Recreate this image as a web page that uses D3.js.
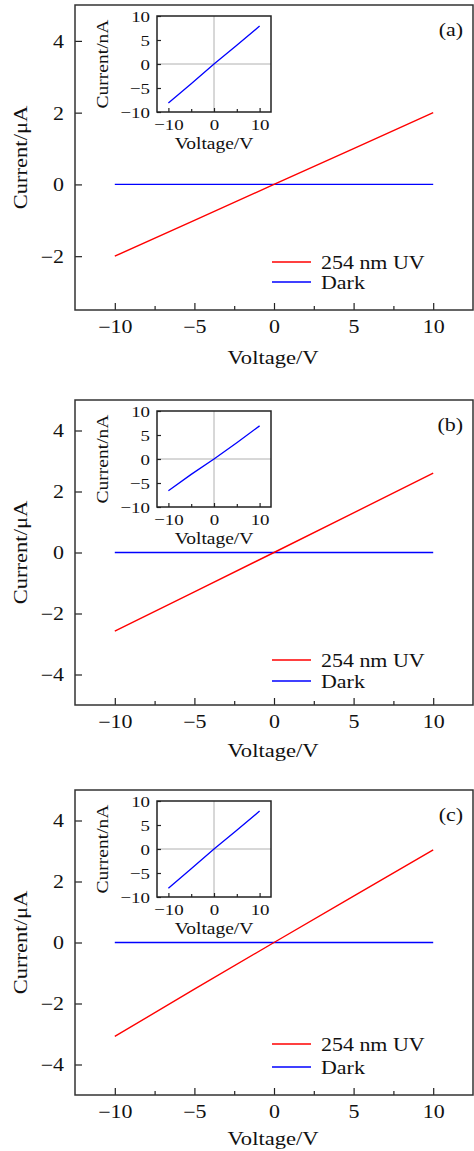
<!DOCTYPE html>
<html>
<head>
<meta charset="utf-8">
<script src="https://cdn.jsdelivr.net/npm/d3@7"></script>
<style>
body { margin: 0; background: #fff; }
svg text { font-family: "Liberation Serif", serif; fill: #111; }
</style>
</head>
<body>
<svg id="chart"></svg>
<script>
// values
const voltage = [-10, -5, 0, 5, 10]
const uvA = [-2.0, -1.0, 0.0, 1.0, 2.0]
const uvB = [-2.58, -1.29, 0.0, 1.3, 2.6]
const uvC = [-3.08, -1.53, 0.0, 1.52, 3.04]
const darkA = [0, 0, 0, 0, 0]
const darkB = [0, 0, 0, 0, 0]
const darkC = [0, 0, 0, 0, 0]
const insetA = [-8.1, -4.1, 0, 3.9, 7.9]
const insetB = [-6.6, -3.2, 0, 3.4, 6.9]
const insetC = [-8.2, -4.1, 0, 3.9, 7.9]
const panelNames = ['(a)', '(b)', '(c)']
const yTicksA = [-2, 0, 2, 4]
const yTicksBC = [-4, -2, 0, 2, 4]
const xTicks = [-10, -5, 0, 5, 10]
const xMinor = [-7.5, -2.5, 2.5, 7.5]
const insetXTicks = [-10, 0, 10]
const insetXMinor = [-5, 5]
const insetYTicks = [-10, -5, 0, 5, 10]
const legendNames = ['254 nm UV', 'Dark']

let width = 474
let height = 1151
let SX = 1.22   // the source text is drawn wide
let fmt = d => d < 0 ? '\u2212' + Math.abs(d) : String(d)

let svg = d3.select('#chart').attr('width', width).attr('height', height)

let panels = [
    {top: 5, yDom: [-3.5, 5], yTicks: yTicksA, uv: uvA, dark: darkA, inset: insetA, leg: [262, 282], lab: 54},
    {top: 400, yDom: [-5, 5], yTicks: yTicksBC, uv: uvB, dark: darkB, inset: insetB, leg: [660, 681], lab: 52},
    {top: 790, yDom: [-5, 5], yTicks: yTicksBC, uv: uvC, dark: darkC, inset: insetC, leg: [1044, 1067], lab: 50}
]

let stretch = (sel, x) => {
    sel.attr('x', x / SX).attr('transform', 'scale(' + SX + ',1)')
}

let drawPanel = (p, i) => {
    let g = svg.append('g')
    let left = 75, right = 473
    let top = p.top, bottom = p.top + 305

    let xScale = d3.scaleLinear().domain([-12.5, 12.5]).range([left, right])
    let yScale = d3.scaleLinear().domain(p.yDom).range([bottom, top])

    // axes, ticks pointing inwards
    let xAxis = d3.axisBottom(xScale).tickValues(xTicks).tickFormat(fmt)
        .tickSizeInner(-7).tickSizeOuter(0).tickPadding(10)
    let gx = g.append('g').attr('transform', 'translate(0,' + bottom + ')').call(xAxis)
    gx.selectAll('text').style('font-size', '18px').call(stretch, 0)

    g.append('g').attr('transform', 'translate(0,' + bottom + ')')
        .call(d3.axisBottom(xScale).tickValues(xMinor).tickFormat('').tickSizeInner(-4).tickSizeOuter(0))

    let yAxis = d3.axisLeft(yScale).tickValues(p.yTicks).tickFormat(fmt)
        .tickSizeInner(-7).tickSizeOuter(0).tickPadding(11)
    let gy = g.append('g').attr('transform', 'translate(' + left + ',0)').call(yAxis)
    gy.selectAll('text').style('font-size', '18px').attr('dy', '0.36em').call(stretch, -11)

    g.selectAll('.domain').remove()
    g.selectAll('.tick line').attr('stroke', '#222').attr('stroke-width', 1.2)

    g.append('rect')
        .attr('x', left).attr('y', top)
        .attr('width', right - left).attr('height', bottom - top)
        .attr('fill', 'none').attr('stroke', '#333').attr('stroke-width', 1.5)

    let line = d3.line().x((d, j) => xScale(voltage[j])).y(d => yScale(d))

    g.append('path').datum(p.dark).attr('d', line)
        .attr('fill', 'none').attr('stroke', 'blue').attr('stroke-width', 1.4)
    g.append('path').datum(p.uv).attr('d', line)
        .attr('fill', 'none').attr('stroke', 'red').attr('stroke-width', 1.4)

    // labels
    g.append('text')
        .attr('transform', 'translate(' + ((left + right) / 2 - 1) + ',' + (bottom + p.lab) + ') scale(' + SX + ',1)')
        .attr('text-anchor', 'middle').style('font-size', '18.5px')
        .text('Voltage/V')
    g.append('text')
        .attr('transform', 'translate(27,' + ((top + bottom) / 2) + ') rotate(-90) scale(' + SX + ',1)')
        .attr('text-anchor', 'middle').style('font-size', '18.5px')
        .text('Current/\u03bcA')
    g.append('text')
        .attr('transform', 'translate(463,' + (top + 31) + ') scale(' + SX + ',1)')
        .attr('text-anchor', 'end').style('font-size', '18px')
        .text(panelNames[i])

    // legend
    let colors = ['red', 'blue']
    legendNames.forEach((name, k) => {
        let ly = p.leg[k]
        g.append('line').attr('x1', 272).attr('x2', 311).attr('y1', ly).attr('y2', ly)
            .attr('stroke', colors[k]).attr('stroke-width', 1.4)
        g.append('text')
            .attr('transform', 'translate(321,' + (ly + 6.5) + ') scale(' + SX + ',1)')
            .style('font-size', '18px')
            .text(name)
    })

    drawInset(g, p, top + 11)
}

let drawInset = (g, p, itop) => {
    let ileft = 157, iright = 271
    let ibottom = itop + 96
    let xs = d3.scaleLinear().domain([-12.5, 12.5]).range([ileft, iright])
    let ys = d3.scaleLinear().domain([-10, 10]).range([ibottom, itop])

    g.append('rect').attr('x', ileft).attr('y', itop)
        .attr('width', iright - ileft).attr('height', ibottom - itop).attr('fill', '#fff')

    // grey zero lines
    g.append('line').attr('x1', xs(0)).attr('x2', xs(0)).attr('y1', itop).attr('y2', ibottom)
        .attr('stroke', '#b0b0b0').attr('stroke-width', 1)
    g.append('line').attr('x1', ileft).attr('x2', iright).attr('y1', ys(0)).attr('y2', ys(0))
        .attr('stroke', '#b0b0b0').attr('stroke-width', 1)

    let gx = g.append('g').attr('transform', 'translate(0,' + ibottom + ')')
        .call(d3.axisBottom(xs).tickValues(insetXTicks).tickFormat(fmt)
            .tickSizeInner(-4).tickSizeOuter(0).tickPadding(7))
    gx.selectAll('text').style('font-size', '15.5px').call(stretch, 0)
    g.append('g').attr('transform', 'translate(0,' + ibottom + ')')
        .call(d3.axisBottom(xs).tickValues(insetXMinor).tickFormat('').tickSizeInner(-3).tickSizeOuter(0))

    let gy = g.append('g').attr('transform', 'translate(' + ileft + ',0)')
        .call(d3.axisLeft(ys).tickValues(insetYTicks).tickFormat(fmt)
            .tickSizeInner(-4).tickSizeOuter(0).tickPadding(7))
    gy.selectAll('text').style('font-size', '15.5px').attr('dy', '0.36em').call(stretch, -7)

    g.selectAll('.domain').remove()
    g.selectAll('.tick line').attr('stroke', '#222').attr('stroke-width', 1.2)

    g.append('rect').attr('x', ileft).attr('y', itop)
        .attr('width', iright - ileft).attr('height', ibottom - itop)
        .attr('fill', 'none').attr('stroke', '#222').attr('stroke-width', 1.5)

    let line = d3.line().x((d, j) => xs(voltage[j])).y(d => ys(d))
    g.append('path').datum(p.inset).attr('d', line)
        .attr('fill', 'none').attr('stroke', 'blue').attr('stroke-width', 1.3)

    g.append('text')
        .attr('transform', 'translate(' + xs(0) + ',' + (ibottom + 37) + ') scale(' + SX + ',1)')
        .attr('text-anchor', 'middle').style('font-size', '16px')
        .text('Voltage/V')
    g.append('text')
        .attr('transform', 'translate(108,' + ((itop + ibottom) / 2) + ') rotate(-90) scale(' + SX + ',1)')
        .attr('text-anchor', 'middle').style('font-size', '16px')
        .text('Current/nA')
}

panels.forEach(drawPanel)
</script>
</body>
</html>
